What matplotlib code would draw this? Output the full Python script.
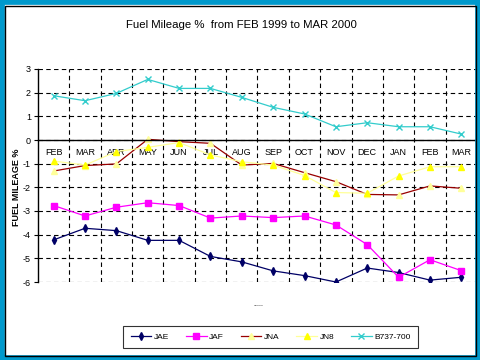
import matplotlib.pyplot as plt
from matplotlib.patches import Rectangle

plt.rcParams['font.family'] = ['Liberation Sans', 'DejaVu Sans']
plt.rcParams['axes.unicode_minus'] = False

months = ['FEB', 'MAR', 'APR', 'MAY', 'JUN', 'JUL', 'AUG', 'SEP', 'OCT', 'NOV', 'DEC', 'JAN', 'FEB', 'MAR']

jae = [-4.22, -3.73, -3.83, -4.24, -4.24, -4.92, -5.15, -5.53, -5.73, -6.0, -5.41, -5.6, -5.92, -5.8]
jaf = [-2.77, -3.21, -2.84, -2.65, -2.77, -3.3, -3.21, -3.28, -3.21, -3.59, -4.42, -5.8, -5.06, -5.52]
jna = [-1.31, -1.08, -1.01, 0.03, -0.07, -0.14, -1.06, -0.99, -1.38, -1.76, -2.3, -2.32, -1.94, -2.04]
jn8 = [-0.89, -1.06, -0.49, -0.31, -0.11, -0.63, -0.92, -1.06, -1.5, -2.22, -2.25, -1.52, -1.13, -1.13]
b737 = [1.87, 1.66, 1.97, 2.56, 2.18, 2.18, 1.8, 1.38, 1.1, 0.56, 0.73, 0.56, 0.56, 0.25]

fig = plt.figure(figsize=(4.8, 3.6), dpi=100)
fig.patch.set_facecolor('white')

ax = fig.add_axes([38 / 480, 1 - 282 / 360, 439 / 480, 213 / 360])
x = list(range(len(months)))

ax.plot(x, jae, color='#000066', lw=0.9, marker='d', ms=4, mfc='#000066', mec='#000066', label='JAE')
ax.plot(x, jaf, color='#FF00FF', lw=0.9, marker='s', ms=4, mfc='#FF00FF', mec='#FF00FF', label='JAF')
ax.plot(x, jna, color='#990000', lw=0.9, marker='^', ms=4, mfc='#FFFF99', mec='#FFFF99', label='JNA')
ax.plot(x, jn8, color='#FFFF99', lw=0.9, marker='^', ms=4, mfc='#FFFF00', mec='#FFFF00', label='JN8')
ax.plot(x, b737, color='#33CCCC', lw=0.9, marker='x', ms=4, mec='#33CCCC', label='B737-700')

ax.set_xlim(-0.5, len(months) - 0.5)
ax.set_ylim(-6, 3)
ax.set_yticks(range(-6, 4))
ax.set_xticks(x)
ax.set_xticklabels(months)
ax.set_xticks([i + 0.5 for i in x[:-1]], minor=True)
ax.tick_params(axis='y', labelsize=6.5, length=3, width=0.8, pad=2)
ax.tick_params(axis='x', which='both', length=0, pad=6, labelsize=6.5)

ax.grid(axis='y', color='black', linestyle=(0, (4, 3)), lw=0.8)
ax.grid(axis='x', which='minor', color='black', linestyle=(0, (4, 3)), lw=0.8)
ax.set_axisbelow(True)

ax.spines['bottom'].set_position(('data', 0))
ax.spines['top'].set_visible(False)
ax.spines['right'].set_visible(False)
ax.spines['left'].set_linewidth(1)
ax.spines['bottom'].set_linewidth(1)

fig.text(241 / 480, 1 - 25 / 360, 'Fuel Mileage %  from FEB 1999 to MAR 2000',
         ha='center', va='center', fontsize=8.2, color='black')
fig.text(17 / 480, 1 - 187 / 360, 'FUEL MILEAGE %', rotation=90,
         ha='center', va='center', fontsize=6.5, fontweight='bold')
fig.text(258 / 480, 1 - 304 / 360, '.....', ha='center', va='center', fontsize=5)

leg = fig.legend(loc='center', bbox_to_anchor=(270.5 / 480, 1 - 337 / 360), ncol=5,
                 fontsize=6, frameon=True, fancybox=False, edgecolor='black',
                 handlelength=2.5, columnspacing=2.0, handletextpad=0.3,
                 borderpad=0.9, markerscale=1)
leg.get_frame().set_linewidth(0.8)

# blue outer frame
fig.add_artist(Rectangle((0, 0), 1, 1, transform=fig.transFigure, fill=False,
                         edgecolor='#0099CC', lw=7, zorder=10))
fig.add_artist(Rectangle((4.5 / 480, 4.5 / 360), 471 / 480, 350 / 360, transform=fig.transFigure,
                         fill=False, edgecolor='black', lw=1, zorder=11))

plt.savefig('out.png', dpi=100)
